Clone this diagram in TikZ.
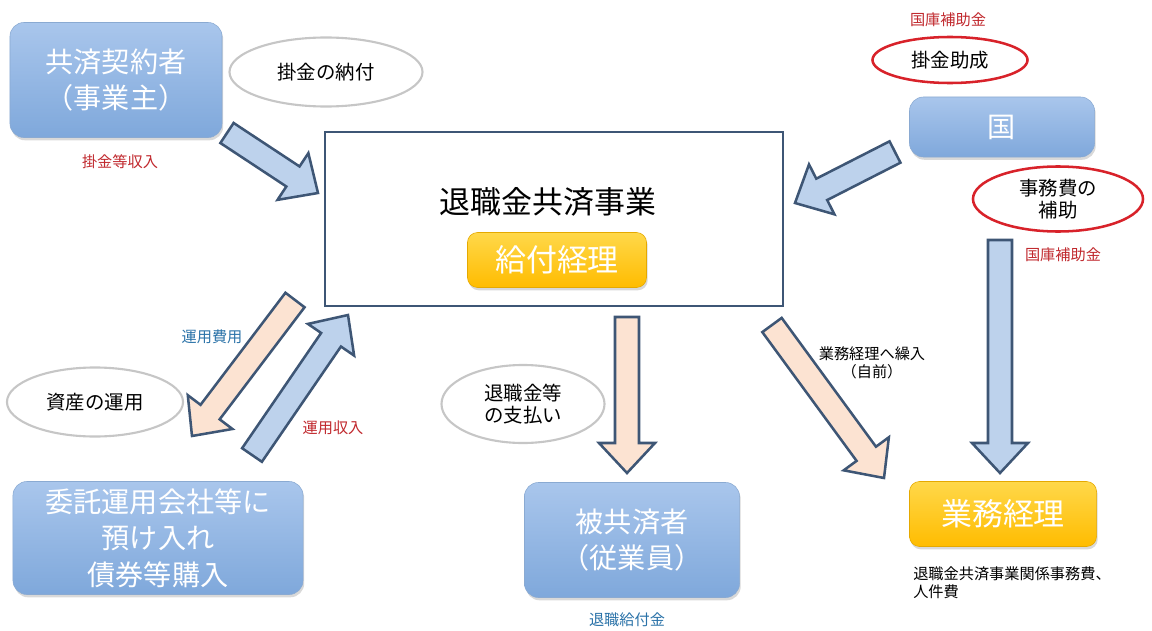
\documentclass[tikz,border=0pt]{standalone}
\usepackage{fontspec}
\setmainfont{Noto Sans CJK JP}
\usetikzlibrary{positioning, shapes.geometric, calc, shadows}
\definecolor{boxtop}{HTML}{A9C6EC}
\definecolor{boxbottom}{HTML}{7FA8DB}
\definecolor{boxline}{HTML}{8AAAD2}
\definecolor{goldtop}{HTML}{FFD84A}
\definecolor{goldbottom}{HTML}{FFBC00}
\definecolor{arrowline}{HTML}{3E5675}
\definecolor{arrowblue}{HTML}{BDD2EC}
\definecolor{arrowpeach}{HTML}{FCE3D2}
\definecolor{labelred}{HTML}{C0282D}
\definecolor{labelblue}{HTML}{2A72A8}
\definecolor{ringred}{HTML}{D8222A}
\tikzset{
    base/.style={align=center, inner sep=0pt},
    bluebox/.style={base, rectangle, rounded corners=0.35cm, top color=boxtop, bottom color=boxbottom, draw=boxline, text=white, font=\fontsize{20}{26}\selectfont, drop shadow={opacity=0.3, shadow xshift=0.03cm, shadow yshift=-0.07cm}},
    goldbox/.style={base, rectangle, rounded corners=0.25cm, top color=goldtop, bottom color=goldbottom, draw=goldbottom!90!black, text=white, font=\fontsize{22}{26}\selectfont, drop shadow={opacity=0.3, shadow xshift=0.03cm, shadow yshift=-0.07cm}},
    mainbox/.style={base, rectangle, draw=arrowline, line width=2pt, fill=white},
    grayring/.style={base, ellipse, draw=gray!45, line width=1.5pt, fill=white, font=\fontsize{13.8}{16}\selectfont},
    redring/.style={base, ellipse, draw=ringred, line width=1.8pt, fill=white, font=\fontsize{13.8}{16}\selectfont},
    redlabel/.style={base, text=labelred, font=\fontsize{10.8}{13}\selectfont},
    bluelabel/.style={base, text=labelblue, font=\fontsize{10.8}{13}\selectfont},
    note/.style={base, font=\fontsize{10.8}{13}\selectfont},
    bluearrow/.style={draw=arrowline, fill=arrowblue, line width=1.8pt, line join=miter},
    peacharrow/.style={draw=arrowline, fill=arrowpeach, line width=1.8pt, line join=miter}
}
\newcommand{\flowarrow}[3]{%
  \coordinate (fa-head) at ($(#3)!0.75cm!(#2)$);
  \draw[#1] ($(#2)!0.3cm!90:(#3)$) -- ($(fa-head)!0.3cm!90:(#3)$)
    -- ($(fa-head)!0.7cm!90:(#3)$) -- (#3)
    -- ($(fa-head)!0.7cm!-90:(#3)$) -- ($(fa-head)!0.3cm!-90:(#3)$)
    -- ($(#2)!0.3cm!-90:(#3)$) -- cycle;
}

\begin{document}
\begin{tikzpicture}[x=0.025cm, y=-0.025cm]
    \useasboundingbox (0,0) rectangle (1152,631);

    % Main body
    \node[mainbox, minimum width=11.45cm, minimum height=4.35cm] (jigyo) at (554,219) {};
    \node[base, font=\fontsize{22}{26}\selectfont] (jigyo-title) at (548,202) {退職金共済事業};
    \node[goldbox, minimum width=4.475cm, minimum height=1.375cm] (kyufu) at (557,260) {給付経理};

    % Left top: contractor
    \node[bluebox, minimum width=5.3cm, minimum height=2.875cm] (keiyaku) at (116,80) {共済契約者\\（事業主）};
    \node[grayring, minimum width=4.825cm, minimum height=1.725cm] (nofu) at (326,72) {掛金の納付};
    \node[redlabel] (kakekin-lbl) at (120,162) {掛金等収入};

    % Right top: state
    \node[redlabel] (kokko-lbl1) at (948,20) {国庫補助金};
    \node[redring, minimum width=3.875cm, minimum height=1.15cm] (josei) at (950,60) {掛金助成};
    \node[bluebox, minimum width=4.625cm, minimum height=1.5cm] (kuni) at (1002,127) {国};
    \node[redring, minimum width=4.25cm, minimum height=1.625cm] (jimuhi) at (1058,199) {事務費の\\補助};
    \node[redlabel] (kokko-lbl2) at (1063,255) {国庫補助金};

    % Bottom row
    \node[grayring, minimum width=4.4cm, minimum height=1.725cm] (shisan) at (95,402) {資産の運用};
    \node[bluebox, minimum width=7.25cm, minimum height=2.825cm] (itaku) at (158,538) {委託運用会社等に\\預け入れ\\債券等購入};
    \node[bluelabel] (hiyo-lbl) at (212,337) {運用費用};
    \node[redlabel] (shunyu-lbl) at (333,428) {運用収入};

    \node[grayring, minimum width=4.075cm, minimum height=1.95cm] (shiharai) at (523,404) {退職金等\\の支払い};
    \node[bluebox, minimum width=5.375cm, minimum height=2.875cm] (hikyosai) at (632,540) {被共済者\\（従業員）};
    \node[bluelabel] (kyufukin-lbl) at (627,620) {退職給付金};

    \node[note] (kurire-lbl) at (872,363) {業務経理へ繰入\\（自前）};
    \node[goldbox, minimum width=4.675cm, minimum height=1.625cm] (gyomu) at (1003,514) {業務経理};
    \node[note, anchor=west, align=left] (gyomu-note) at (913,583) {退職金共済事業関係事務費、\\人件費};

    % Arrow ends
    \coordinate (a1s) at (227,133); \coordinate (a1e) at (318,193);
    \coordinate (a2s) at (895,152); \coordinate (a2e) at (795,203);
    \coordinate (a3s) at (295,300); \coordinate (a3e) at (192,436);
    \coordinate (a4s) at (252,455); \coordinate (a4e) at (348,315);
    \coordinate (a5s) at (627,317); \coordinate (a5e) at (627,473);
    \coordinate (a6s) at (772,325); \coordinate (a6e) at (884,478);
    \coordinate (a7s) at (1000,240); \coordinate (a7e) at (1000,473);

    % Flows
    \flowarrow{bluearrow}{a1s}{a1e}
    \flowarrow{bluearrow}{a2s}{a2e}
    \flowarrow{peacharrow}{a3s}{a3e}
    \flowarrow{bluearrow}{a4s}{a4e}
    \flowarrow{peacharrow}{a5s}{a5e}
    \flowarrow{peacharrow}{a6s}{a6e}
    \flowarrow{bluearrow}{a7s}{a7e}
\end{tikzpicture}
\end{document}
